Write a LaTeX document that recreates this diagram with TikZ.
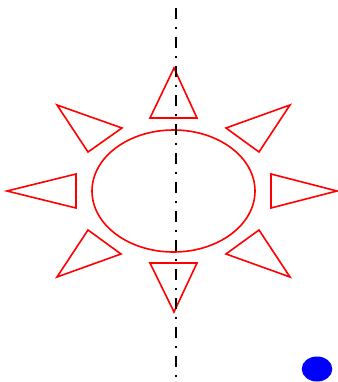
\documentclass[tikz,border=0pt]{standalone}
\begin{document}
\begin{tikzpicture}[x=1pt, y=-1pt]
        \tikzstyle{ray}=[draw=red, line width=1.6pt, line join=miter];
        \tikzstyle{axis}=[draw=black, line width=1.6pt, dash pattern=on 11pt off 8pt on 2pt off 8pt];

        \useasboundingbox (0,0) rectangle (337,382);

        % sun body
        \draw[ray] (173.5,191) ellipse (81.5 and 61);

        % rays
        \draw[ray] (174,68) -- (150,118) -- (197,118) -- cycle;
        \draw[ray] (174,312) -- (150,263) -- (197,263) -- cycle;
        \draw[ray] (7,191) -- (76,174) -- (76,208) -- cycle;
        \draw[ray] (337,191) -- (271,174) -- (271,208) -- cycle;
        \draw[ray] (57,105) -- (122,128) -- (88,152) -- cycle;
        \draw[ray] (290,105) -- (226,128) -- (259,152) -- cycle;
        \draw[ray] (57,277) -- (121,254) -- (88,230) -- cycle;
        \draw[ray] (290,277) -- (226,254) -- (259,230) -- cycle;

        % symmetry axis
        \draw[axis] (176,8) -- (176,382);

        % dot
        \fill[blue] (317,369) ellipse (15.3 and 12.5);
    \end{tikzpicture}
\end{document}
